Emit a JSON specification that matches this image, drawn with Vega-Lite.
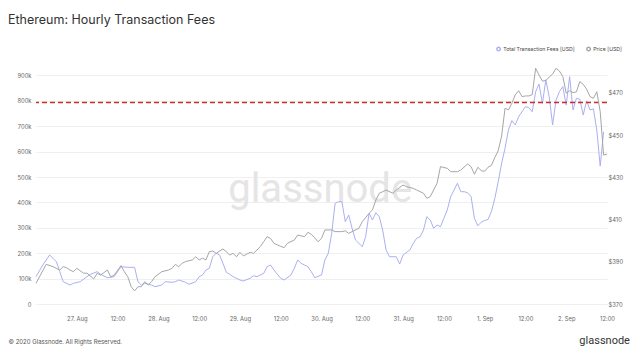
{
  "$schema": "https://vega.github.io/schema/vega-lite/v6.json",
  "width": 571,
  "height": 234,
  "autosize": {"type": "none"},
  "padding": {"left": 36, "top": 70, "right": 31, "bottom": 50},
  "background": "white",
  "config": {"font": "Inter", "view": {"stroke": null}},
  "title": {"text": "Ethereum: Hourly Transaction Fees", "anchor": "start", "frame": "group", "fontSize": 12.5, "fontWeight": "normal", "color": "#333333", "font": "Inter", "dx": -28, "offset": 20},
  "datasets": {
    "threshold": [{"v": 793000}],
    "fees": [
      {"t": "2020-08-26T12:00Z", "v": 107500}, {"t": "2020-08-26T14:00Z", "v": 153500}, {"t": "2020-08-26T16:00Z", "v": 192900}, {"t": "2020-08-26T17:00Z", "v": 179900},
      {"t": "2020-08-26T18:00Z", "v": 166500}, {"t": "2020-08-26T19:00Z", "v": 127200}, {"t": "2020-08-26T20:00Z", "v": 87800}, {"t": "2020-08-26T22:00Z", "v": 74800},
      {"t": "2020-08-26T23:00Z", "v": 81500}, {"t": "2020-08-27T01:00Z", "v": 87800}, {"t": "2020-08-27T03:00Z", "v": 107500}, {"t": "2020-08-27T04:00Z", "v": 116900},
      {"t": "2020-08-27T06:00Z", "v": 127200}, {"t": "2020-08-27T07:00Z", "v": 116900}, {"t": "2020-08-27T09:00Z", "v": 103500}, {"t": "2020-08-27T11:00Z", "v": 107500},
      {"t": "2020-08-27T12:00Z", "v": 127200}, {"t": "2020-08-27T13:00Z", "v": 146900}, {"t": "2020-08-27T15:00Z", "v": 144500}, {"t": "2020-08-27T17:00Z", "v": 144500},
      {"t": "2020-08-27T18:00Z", "v": 87800}, {"t": "2020-08-27T19:00Z", "v": 74800}, {"t": "2020-08-27T20:00Z", "v": 81500}, {"t": "2020-08-27T22:00Z", "v": 74800},
      {"t": "2020-08-27T23:00Z", "v": 68100}, {"t": "2020-08-28T01:00Z", "v": 74800}, {"t": "2020-08-28T02:00Z", "v": 87800}, {"t": "2020-08-28T04:00Z", "v": 85400},
      {"t": "2020-08-28T05:00Z", "v": 87800}, {"t": "2020-08-28T06:00Z", "v": 94500}, {"t": "2020-08-28T08:00Z", "v": 85400}, {"t": "2020-08-28T09:00Z", "v": 77600},
      {"t": "2020-08-28T11:00Z", "v": 87800}, {"t": "2020-08-28T12:00Z", "v": 107500}, {"t": "2020-08-28T13:00Z", "v": 114200}, {"t": "2020-08-28T14:00Z", "v": 133900},
      {"t": "2020-08-28T15:00Z", "v": 140500}, {"t": "2020-08-28T16:00Z", "v": 186200}, {"t": "2020-08-28T17:00Z", "v": 199600}, {"t": "2020-08-28T18:00Z", "v": 192900},
      {"t": "2020-08-28T19:00Z", "v": 160200}, {"t": "2020-08-28T20:00Z", "v": 124800}, {"t": "2020-08-28T21:00Z", "v": 116900}, {"t": "2020-08-28T22:00Z", "v": 107500},
      {"t": "2020-08-29T00:00Z", "v": 94500}, {"t": "2020-08-29T01:00Z", "v": 90600}, {"t": "2020-08-29T03:00Z", "v": 101200}, {"t": "2020-08-29T04:00Z", "v": 111400},
      {"t": "2020-08-29T05:00Z", "v": 107500}, {"t": "2020-08-29T07:00Z", "v": 120900}, {"t": "2020-08-29T08:00Z", "v": 146900}, {"t": "2020-08-29T09:00Z", "v": 153500},
      {"t": "2020-08-29T10:00Z", "v": 133900}, {"t": "2020-08-29T12:00Z", "v": 101200}, {"t": "2020-08-29T13:00Z", "v": 94500}, {"t": "2020-08-29T15:00Z", "v": 114200},
      {"t": "2020-08-29T16:00Z", "v": 140500}, {"t": "2020-08-29T17:00Z", "v": 173200}, {"t": "2020-08-29T18:00Z", "v": 160200}, {"t": "2020-08-29T20:00Z", "v": 146900},
      {"t": "2020-08-29T21:00Z", "v": 127200}, {"t": "2020-08-29T22:00Z", "v": 103500}, {"t": "2020-08-30T00:00Z", "v": 114200}, {"t": "2020-08-30T01:00Z", "v": 173200},
      {"t": "2020-08-30T02:00Z", "v": 199600}, {"t": "2020-08-30T03:00Z", "v": 278300}, {"t": "2020-08-30T04:00Z", "v": 396400}, {"t": "2020-08-30T05:00Z", "v": 402800},
      {"t": "2020-08-30T06:00Z", "v": 402800}, {"t": "2020-08-30T07:00Z", "v": 324000}, {"t": "2020-08-30T08:00Z", "v": 350400}, {"t": "2020-08-30T09:00Z", "v": 298000},
      {"t": "2020-08-30T10:00Z", "v": 252000}, {"t": "2020-08-30T12:00Z", "v": 225600}, {"t": "2020-08-30T13:00Z", "v": 265000}, {"t": "2020-08-30T14:00Z", "v": 357100},
      {"t": "2020-08-30T15:00Z", "v": 330700}, {"t": "2020-08-30T16:00Z", "v": 359400}, {"t": "2020-08-30T17:00Z", "v": 343700}, {"t": "2020-08-30T18:00Z", "v": 291300},
      {"t": "2020-08-30T19:00Z", "v": 212600}, {"t": "2020-08-30T20:00Z", "v": 186200}, {"t": "2020-08-30T22:00Z", "v": 186200}, {"t": "2020-08-30T23:00Z", "v": 157500},
      {"t": "2020-08-31T00:00Z", "v": 192900}, {"t": "2020-08-31T02:00Z", "v": 212600}, {"t": "2020-08-31T03:00Z", "v": 239000}, {"t": "2020-08-31T04:00Z", "v": 258700},
      {"t": "2020-08-31T05:00Z", "v": 265000}, {"t": "2020-08-31T06:00Z", "v": 291300}, {"t": "2020-08-31T07:00Z", "v": 343700}, {"t": "2020-08-31T08:00Z", "v": 330700},
      {"t": "2020-08-31T09:00Z", "v": 298000}, {"t": "2020-08-31T10:00Z", "v": 311000}, {"t": "2020-08-31T11:00Z", "v": 304300}, {"t": "2020-08-31T12:00Z", "v": 337400},
      {"t": "2020-08-31T13:00Z", "v": 370100}, {"t": "2020-08-31T14:00Z", "v": 422400}, {"t": "2020-08-31T16:00Z", "v": 475200}, {"t": "2020-08-31T17:00Z", "v": 442100},
      {"t": "2020-08-31T18:00Z", "v": 442100}, {"t": "2020-08-31T19:00Z", "v": 438000}, {"t": "2020-08-31T20:00Z", "v": 423000}, {"t": "2020-08-31T21:00Z", "v": 337000},
      {"t": "2020-08-31T22:00Z", "v": 308000}, {"t": "2020-08-31T23:00Z", "v": 322000}, {"t": "2020-09-01T00:00Z", "v": 329000}, {"t": "2020-09-01T01:00Z", "v": 333000},
      {"t": "2020-09-01T02:00Z", "v": 364000}, {"t": "2020-09-01T03:00Z", "v": 416000}, {"t": "2020-09-01T04:00Z", "v": 482000}, {"t": "2020-09-01T05:00Z", "v": 554000},
      {"t": "2020-09-01T06:00Z", "v": 613000}, {"t": "2020-09-01T07:00Z", "v": 685000}, {"t": "2020-09-01T08:00Z", "v": 722000}, {"t": "2020-09-01T09:00Z", "v": 705000},
      {"t": "2020-09-01T10:00Z", "v": 737000}, {"t": "2020-09-01T11:00Z", "v": 757000}, {"t": "2020-09-01T12:00Z", "v": 777000}, {"t": "2020-09-01T13:00Z", "v": 773000},
      {"t": "2020-09-01T14:00Z", "v": 757000}, {"t": "2020-09-01T15:00Z", "v": 836000}, {"t": "2020-09-01T16:00Z", "v": 866000}, {"t": "2020-09-01T17:00Z", "v": 790000},
      {"t": "2020-09-01T18:00Z", "v": 882000}, {"t": "2020-09-01T19:00Z", "v": 816000}, {"t": "2020-09-01T20:00Z", "v": 705000}, {"t": "2020-09-01T21:00Z", "v": 803000},
      {"t": "2020-09-01T22:00Z", "v": 836000}, {"t": "2020-09-01T23:00Z", "v": 856000}, {"t": "2020-09-02T00:00Z", "v": 783000}, {"t": "2020-09-02T01:00Z", "v": 895000},
      {"t": "2020-09-02T02:00Z", "v": 764000}, {"t": "2020-09-02T03:00Z", "v": 810000}, {"t": "2020-09-02T04:00Z", "v": 806000}, {"t": "2020-09-02T05:00Z", "v": 744000},
      {"t": "2020-09-02T06:00Z", "v": 800000}, {"t": "2020-09-02T07:00Z", "v": 764000}, {"t": "2020-09-02T08:00Z", "v": 768000}, {"t": "2020-09-02T09:00Z", "v": 685000},
      {"t": "2020-09-02T10:00Z", "v": 543000}, {"t": "2020-09-02T11:00Z", "v": 678000}
    ],
    "price": [
      {"t": "2020-08-26T12:00Z", "v": 379.8}, {"t": "2020-08-26T15:00Z", "v": 388.8}, {"t": "2020-08-26T17:00Z", "v": 387.7}, {"t": "2020-08-26T19:00Z", "v": 386.1},
      {"t": "2020-08-26T20:00Z", "v": 387.7}, {"t": "2020-08-26T21:00Z", "v": 387.2}, {"t": "2020-08-26T22:00Z", "v": 386.1}, {"t": "2020-08-26T23:00Z", "v": 385.3},
      {"t": "2020-08-27T00:00Z", "v": 386.9}, {"t": "2020-08-27T02:00Z", "v": 384.6}, {"t": "2020-08-27T03:00Z", "v": 384.6}, {"t": "2020-08-27T05:00Z", "v": 381.9},
      {"t": "2020-08-27T06:00Z", "v": 384.6}, {"t": "2020-08-27T07:00Z", "v": 383.7}, {"t": "2020-08-27T09:00Z", "v": 386.1}, {"t": "2020-08-27T10:00Z", "v": 382.9},
      {"t": "2020-08-27T11:00Z", "v": 383.7}, {"t": "2020-08-27T13:00Z", "v": 388.2}, {"t": "2020-08-27T14:00Z", "v": 385.3}, {"t": "2020-08-27T15:00Z", "v": 382.9},
      {"t": "2020-08-27T16:00Z", "v": 378.2}, {"t": "2020-08-27T17:00Z", "v": 376.2}, {"t": "2020-08-27T18:00Z", "v": 378.2}, {"t": "2020-08-27T19:00Z", "v": 378.2},
      {"t": "2020-08-27T20:00Z", "v": 380.6}, {"t": "2020-08-27T21:00Z", "v": 379.0}, {"t": "2020-08-27T22:00Z", "v": 380.6}, {"t": "2020-08-27T23:00Z", "v": 382.9},
      {"t": "2020-08-28T01:00Z", "v": 385.3}, {"t": "2020-08-28T03:00Z", "v": 386.1}, {"t": "2020-08-28T04:00Z", "v": 386.9}, {"t": "2020-08-28T05:00Z", "v": 388.8},
      {"t": "2020-08-28T06:00Z", "v": 387.7}, {"t": "2020-08-28T07:00Z", "v": 389.3}, {"t": "2020-08-28T08:00Z", "v": 390.1}, {"t": "2020-08-28T10:00Z", "v": 390.9},
      {"t": "2020-08-28T11:00Z", "v": 392.4}, {"t": "2020-08-28T12:00Z", "v": 390.9}, {"t": "2020-08-28T13:00Z", "v": 391.7}, {"t": "2020-08-28T14:00Z", "v": 390.9},
      {"t": "2020-08-28T15:00Z", "v": 394.8}, {"t": "2020-08-28T16:00Z", "v": 395.1}, {"t": "2020-08-28T17:00Z", "v": 394.0}, {"t": "2020-08-28T19:00Z", "v": 396.1},
      {"t": "2020-08-28T20:00Z", "v": 394.8}, {"t": "2020-08-28T21:00Z", "v": 393.2}, {"t": "2020-08-28T22:00Z", "v": 394.0}, {"t": "2020-08-28T23:00Z", "v": 392.4},
      {"t": "2020-08-29T00:00Z", "v": 394.5}, {"t": "2020-08-29T01:00Z", "v": 392.8}, {"t": "2020-08-29T02:00Z", "v": 393.6}, {"t": "2020-08-29T03:00Z", "v": 394.5},
      {"t": "2020-08-29T04:00Z", "v": 394.0}, {"t": "2020-08-29T06:00Z", "v": 397.2}, {"t": "2020-08-29T07:00Z", "v": 399.5}, {"t": "2020-08-29T08:00Z", "v": 401.9},
      {"t": "2020-08-29T09:00Z", "v": 401.1}, {"t": "2020-08-29T10:00Z", "v": 398.8}, {"t": "2020-08-29T11:00Z", "v": 398.0}, {"t": "2020-08-29T13:00Z", "v": 396.7},
      {"t": "2020-08-29T14:00Z", "v": 398.8}, {"t": "2020-08-29T16:00Z", "v": 400.3}, {"t": "2020-08-29T17:00Z", "v": 402.7}, {"t": "2020-08-29T19:00Z", "v": 401.9},
      {"t": "2020-08-29T20:00Z", "v": 404.0}, {"t": "2020-08-29T21:00Z", "v": 403.0}, {"t": "2020-08-29T22:00Z", "v": 401.4}, {"t": "2020-08-29T23:00Z", "v": 399.5},
      {"t": "2020-08-30T00:00Z", "v": 401.1}, {"t": "2020-08-30T01:00Z", "v": 405.1}, {"t": "2020-08-30T03:00Z", "v": 405.1}, {"t": "2020-08-30T04:00Z", "v": 404.3},
      {"t": "2020-08-30T06:00Z", "v": 404.3}, {"t": "2020-08-30T07:00Z", "v": 404.7}, {"t": "2020-08-30T08:00Z", "v": 403.5}, {"t": "2020-08-30T09:00Z", "v": 404.3},
      {"t": "2020-08-30T11:00Z", "v": 405.9}, {"t": "2020-08-30T12:00Z", "v": 409.0}, {"t": "2020-08-30T14:00Z", "v": 413.0}, {"t": "2020-08-30T15:00Z", "v": 414.6},
      {"t": "2020-08-30T16:00Z", "v": 419.3}, {"t": "2020-08-30T17:00Z", "v": 422.5}, {"t": "2020-08-30T18:00Z", "v": 423.2}, {"t": "2020-08-30T19:00Z", "v": 424.0},
      {"t": "2020-08-30T21:00Z", "v": 422.5}, {"t": "2020-08-30T22:00Z", "v": 424.0}, {"t": "2020-08-31T00:00Z", "v": 426.4}, {"t": "2020-08-31T01:00Z", "v": 425.6},
      {"t": "2020-08-31T03:00Z", "v": 424.8}, {"t": "2020-08-31T04:00Z", "v": 424.0}, {"t": "2020-08-31T06:00Z", "v": 422.5}, {"t": "2020-08-31T07:00Z", "v": 420.1},
      {"t": "2020-08-31T08:00Z", "v": 420.9}, {"t": "2020-08-31T10:00Z", "v": 427.2}, {"t": "2020-08-31T11:00Z", "v": 435.1}, {"t": "2020-08-31T13:00Z", "v": 434.3},
      {"t": "2020-08-31T14:00Z", "v": 432.7}, {"t": "2020-08-31T16:00Z", "v": 432.7}, {"t": "2020-08-31T17:00Z", "v": 433.5}, {"t": "2020-08-31T19:00Z", "v": 436.4},
      {"t": "2020-08-31T20:00Z", "v": 435.1}, {"t": "2020-08-31T21:00Z", "v": 431.5}, {"t": "2020-08-31T22:00Z", "v": 434.8}, {"t": "2020-08-31T23:00Z", "v": 433.2},
      {"t": "2020-09-01T00:00Z", "v": 432.9}, {"t": "2020-09-01T01:00Z", "v": 434.8}, {"t": "2020-09-01T02:00Z", "v": 435.7}, {"t": "2020-09-01T03:00Z", "v": 439.4},
      {"t": "2020-09-01T04:00Z", "v": 442.7}, {"t": "2020-09-01T05:00Z", "v": 449.6}, {"t": "2020-09-01T06:00Z", "v": 462.8}, {"t": "2020-09-01T07:00Z", "v": 462.0},
      {"t": "2020-09-01T08:00Z", "v": 465.1}, {"t": "2020-09-01T09:00Z", "v": 469.1}, {"t": "2020-09-01T10:00Z", "v": 471.1}, {"t": "2020-09-01T11:00Z", "v": 468.3},
      {"t": "2020-09-01T12:00Z", "v": 468.6}, {"t": "2020-09-01T13:00Z", "v": 468.6}, {"t": "2020-09-01T14:00Z", "v": 469.2}, {"t": "2020-09-01T15:00Z", "v": 481.7},
      {"t": "2020-09-01T16:00Z", "v": 478.5}, {"t": "2020-09-01T17:00Z", "v": 475.6}, {"t": "2020-09-01T18:00Z", "v": 476.0}, {"t": "2020-09-01T19:00Z", "v": 477.5},
      {"t": "2020-09-01T20:00Z", "v": 479.0}, {"t": "2020-09-01T21:00Z", "v": 481.7}, {"t": "2020-09-01T22:00Z", "v": 480.4}, {"t": "2020-09-01T23:00Z", "v": 477.8},
      {"t": "2020-09-02T00:00Z", "v": 469.9}, {"t": "2020-09-02T01:00Z", "v": 471.1}, {"t": "2020-09-02T02:00Z", "v": 470.2}, {"t": "2020-09-02T03:00Z", "v": 470.5},
      {"t": "2020-09-02T04:00Z", "v": 475.4}, {"t": "2020-09-02T05:00Z", "v": 474.1}, {"t": "2020-09-02T06:00Z", "v": 471.8}, {"t": "2020-09-02T07:00Z", "v": 468.3},
      {"t": "2020-09-02T08:00Z", "v": 467.5}, {"t": "2020-09-02T09:00Z", "v": 470.6}, {"t": "2020-09-02T10:00Z", "v": 461.2}, {"t": "2020-09-02T11:00Z", "v": 440.6},
      {"t": "2020-09-02T12:00Z", "v": 441.0}
    ]
  },
  "layer": [
    {
      "layer": [
        {
          "data": {"values": [{}]},
          "mark": {"type": "text", "font": "Roboto", "fontSize": 40, "color": "#e5e5e5", "align": "center", "baseline": "middle"},
          "encoding": {
            "x": {"datum": {"year": 2020, "month": 8, "date": 29, "hours": 23, "minutes": 36, "utc": true}, "type": "temporal"},
            "y": {"datum": 449000, "type": "quantitative", "axis": {
                "title": null, "orient": "left",
                "values": [0, 100000, 200000, 300000, 400000, 500000, 600000, 700000, 800000, 900000],
                "labelExpr": "datum.value == 0 ? '0' : (datum.value / 1000) + 'k'",
                "labelFontSize": 5.8, "labelColor": "#666666", "labelPadding": 5, "labelOverlap": false,
                "grid": true, "gridColor": "#efefef", "gridWidth": 1, "domain": false, "ticks": false
              }},
            "text": {"value": "glassnode"}
          }
        },
        {
          "data": {"name": "fees"},
          "mark": {"type": "line", "strokeWidth": 1, "interpolate": "linear"},
          "encoding": {
            "x": {
              "field": "t", "type": "temporal",
              "scale": {"type": "utc", "domain": [{"year": 2020, "month": 8, "date": 26, "hours": 12, "utc": true}, {"year": 2020, "month": 9, "date": 2, "hours": 12, "utc": true}]},
              "axis": {
                "title": "© 2020 Glassnode. All Rights Reserved.",
                "titleAnchor": "start", "titleAlign": "left", "titleX": -28, "titleY": 37, "titleBaseline": "middle",
                "titleFontSize": 6, "titleFontWeight": "normal", "titleColor": "#555555", "titleFont": "Inter",
                "values": [
                  {"year": 2020, "month": 8, "date": 27, "hours": 0, "utc": true}, {"year": 2020, "month": 8, "date": 27, "hours": 12, "utc": true},
                  {"year": 2020, "month": 8, "date": 28, "hours": 0, "utc": true}, {"year": 2020, "month": 8, "date": 28, "hours": 12, "utc": true},
                  {"year": 2020, "month": 8, "date": 29, "hours": 0, "utc": true}, {"year": 2020, "month": 8, "date": 29, "hours": 12, "utc": true},
                  {"year": 2020, "month": 8, "date": 30, "hours": 0, "utc": true}, {"year": 2020, "month": 8, "date": 30, "hours": 12, "utc": true},
                  {"year": 2020, "month": 8, "date": 31, "hours": 0, "utc": true}, {"year": 2020, "month": 8, "date": 31, "hours": 12, "utc": true},
                  {"year": 2020, "month": 9, "date": 1, "hours": 0, "utc": true}, {"year": 2020, "month": 9, "date": 1, "hours": 12, "utc": true},
                  {"year": 2020, "month": 9, "date": 2, "hours": 0, "utc": true}, {"year": 2020, "month": 9, "date": 2, "hours": 12, "utc": true}
                ],
                "labelExpr": "utchours(datum.value) == 0 ? utcFormat(datum.value, '%-d. %b') : utcFormat(datum.value, '%H:%M')",
                "labelFontSize": 5.8, "labelColor": "#666666", "labelPadding": 11, "labelFlush": false, "labelOverlap": false,
                "grid": false, "domain": false, "ticks": false
              }
            },
            "y": {
              "field": "v", "type": "quantitative",
              "scale": {"domain": [0, 921300], "nice": false, "zero": true},
              "axis": {
                "title": null, "orient": "left",
                "values": [0, 100000, 200000, 300000, 400000, 500000, 600000, 700000, 800000, 900000],
                "labelExpr": "datum.value == 0 ? '0' : (datum.value / 1000) + 'k'",
                "labelFontSize": 5.8, "labelColor": "#666666", "labelPadding": 5, "labelOverlap": false,
                "grid": true, "gridColor": "#efefef", "gridWidth": 1, "domain": false, "ticks": false
              }
            },
            "color": {
              "datum": "Total Transaction Fees [USD]",
              "scale": {"domain": ["Total Transaction Fees [USD]", "Price [USD]"], "range": ["#aab0f0", "#a6a6a6"]},
              "legend": {
                "title": null, "orient": "none", "legendX": 460, "legendY": -24, "direction": "horizontal",
                "symbolType": "circle", "symbolSize": 12, "symbolStrokeWidth": 1.5,
                "labelFontSize": 5.2, "labelColor": "#444444", "labelFont": "Inter", "columnPadding": 8, "labelOffset": 2
              }
            }
          }
        },
        {
          "data": {"name": "threshold"},
          "mark": {"type": "rule", "color": "#c9302c", "strokeWidth": 1.5, "strokeDash": [5, 3]},
          "encoding": {"y": {"field": "v", "type": "quantitative", "axis": {
                "title": null, "orient": "left",
                "values": [0, 100000, 200000, 300000, 400000, 500000, 600000, 700000, 800000, 900000],
                "labelExpr": "datum.value == 0 ? '0' : (datum.value / 1000) + 'k'",
                "labelFontSize": 5.8, "labelColor": "#666666", "labelPadding": 5, "labelOverlap": false,
                "grid": true, "gridColor": "#efefef", "gridWidth": 1, "domain": false, "ticks": false
              }}}
        },
        {
          "data": {"values": [{}]},
          "mark": {"type": "text", "font": "Roboto", "fontSize": 11, "color": "#333333", "align": "right", "baseline": "middle", "clip": false},
          "encoding": {
            "x": {"datum": {"year": 2020, "month": 9, "date": 2, "hours": 18, "minutes": 45, "utc": true}, "type": "temporal"},
            "y": {"datum": -146000, "type": "quantitative", "axis": {
                "title": null, "orient": "left",
                "values": [0, 100000, 200000, 300000, 400000, 500000, 600000, 700000, 800000, 900000],
                "labelExpr": "datum.value == 0 ? '0' : (datum.value / 1000) + 'k'",
                "labelFontSize": 5.8, "labelColor": "#666666", "labelPadding": 5, "labelOverlap": false,
                "grid": true, "gridColor": "#efefef", "gridWidth": 1, "domain": false, "ticks": false
              }},
            "text": {"value": "glassnode"}
          }
        }
      ]
    },
    {
      "data": {"name": "price"},
      "mark": {"type": "line", "strokeWidth": 1, "interpolate": "linear"},
      "encoding": {
        "x": {"field": "t", "type": "temporal", "axis": {"title": "© 2020 Glassnode. All Rights Reserved."}},
        "y": {
          "field": "v", "type": "quantitative",
          "scale": {"domain": [370, 480.9], "nice": false, "zero": false},
          "axis": {
            "title": null, "orient": "right",
            "values": [370, 390, 410, 430, 450, 470],
            "labelExpr": "'$' + datum.value",
            "labelFontSize": 5.8, "labelColor": "#666666", "labelPadding": 1, "labelOverlap": false,
            "grid": false, "domain": false, "ticks": false
          }
        },
        "color": {"datum": "Price [USD]"}
      }
    }
  ],
  "resolve": {"scale": {"y": "independent"}, "axis": {"y": "independent"}}
}
